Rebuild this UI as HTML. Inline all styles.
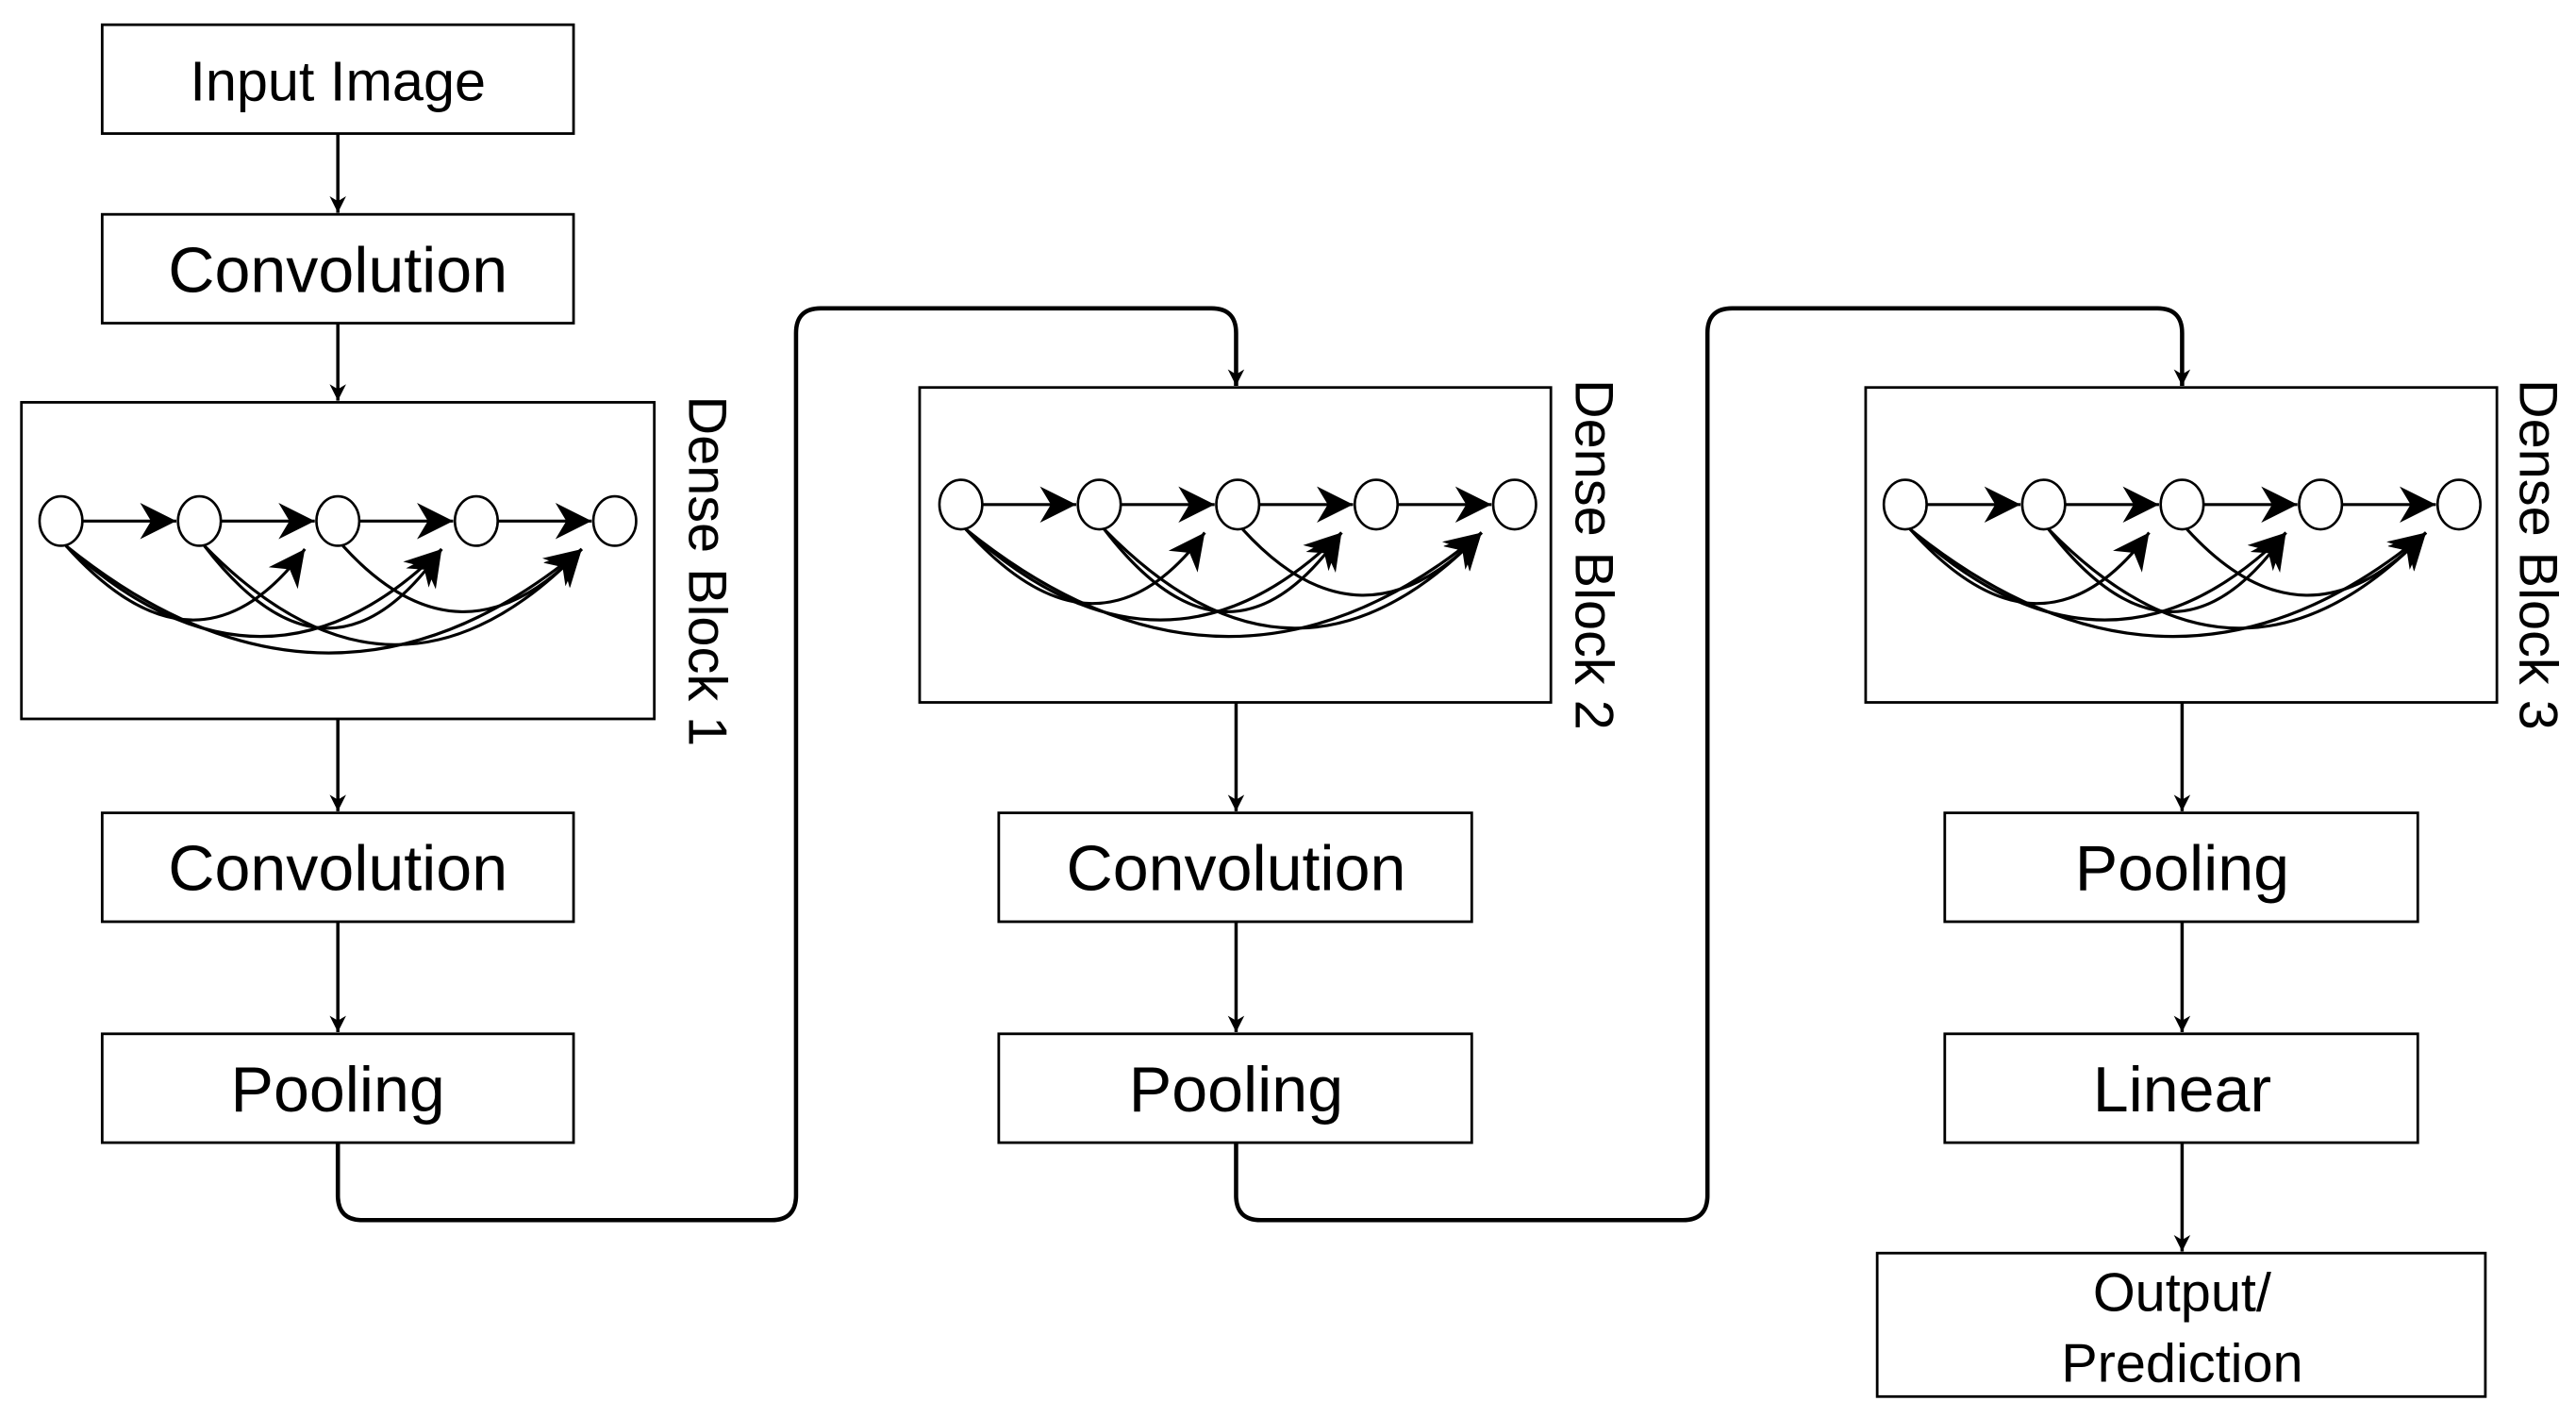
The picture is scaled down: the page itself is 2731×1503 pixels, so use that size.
<!DOCTYPE html>
<html><head><meta charset="utf-8"><style>
html,body{margin:0;padding:0;background:#fff;}
svg{display:block;}
text{font-family:"Liberation Sans",Arial,sans-serif;fill:#000;}
</style></head><body>
<svg width="2731" height="1503" viewBox="0 0 1563 860" preserveAspectRatio="none" xmlns="http://www.w3.org/2000/svg">
<defs>
<marker id="a" viewBox="0 0 10 10" refX="10" refY="5" markerWidth="10" markerHeight="13" markerUnits="userSpaceOnUse" orient="auto">
<path d="M0,0 L10,5 L0,10 L3,5 z" fill="#000"/></marker>
<marker id="b" viewBox="0 0 10 10" refX="10" refY="5" markerWidth="26" markerHeight="22" markerUnits="userSpaceOnUse" orient="auto">
<path d="M0,0 L10,5 L0,10 L3,5 z" fill="#000"/></marker>
<g id="g">
<g fill="none" stroke="#000" stroke-width="1.8">
<line x1="50" y1="316" x2="107" y2="316" marker-end="url(#b)"/>
<line x1="134" y1="316" x2="191" y2="316" marker-end="url(#b)"/>
<line x1="218" y1="316" x2="275" y2="316" marker-end="url(#b)"/>
<line x1="302" y1="316" x2="359" y2="316" marker-end="url(#b)"/>
<path d="M40,331 Q120,420 185,333" marker-end="url(#b)"/>
<path d="M40,331 Q160,440 268,333" marker-end="url(#b)"/>
<path d="M40,331 Q200,460 353,333" marker-end="url(#b)"/>
<path d="M124,331 Q200,430 268,333" marker-end="url(#b)"/>
<path d="M124,331 Q240,450 353,333" marker-end="url(#b)"/>
<path d="M208,331 Q280,410 353,333" marker-end="url(#b)"/>
</g>
<g fill="#fff" stroke="#000" stroke-width="1.5">
<ellipse cx="37" cy="316" rx="13" ry="15"/>
<ellipse cx="121" cy="316" rx="13" ry="15"/>
<ellipse cx="205" cy="316" rx="13" ry="15"/>
<ellipse cx="289" cy="316" rx="13" ry="15"/>
<ellipse cx="373" cy="316" rx="13" ry="15"/>
</g>
</g>
</defs>
<g fill="#fff" stroke="#000" stroke-width="1.6">
<rect x="62" y="15" width="286" height="66"/>
<rect x="62" y="130" width="286" height="66"/>
<rect x="13" y="244" width="384" height="192"/>
<rect x="62" y="493" width="286" height="66"/>
<rect x="62" y="627" width="286" height="66"/>
<rect x="558" y="235" width="383" height="191"/>
<rect x="606" y="493" width="287" height="66"/>
<rect x="606" y="627" width="287" height="66"/>
<rect x="1132" y="235" width="383" height="191"/>
<rect x="1180" y="493" width="287" height="66"/>
<rect x="1180" y="627" width="287" height="66"/>
<rect x="1139" y="760" width="369" height="87"/>
</g>
<use href="#g"/>
<use href="#g" transform="translate(546,-10)"/>
<use href="#g" transform="translate(1119,-10)"/>
<g fill="none" stroke="#000" stroke-width="2">
<line x1="205" y1="81" x2="205" y2="129" marker-end="url(#a)"/>
<line x1="205" y1="196" x2="205" y2="243" marker-end="url(#a)"/>
<line x1="205" y1="436" x2="205" y2="492" marker-end="url(#a)"/>
<line x1="205" y1="559" x2="205" y2="626" marker-end="url(#a)"/>
<line x1="750" y1="426" x2="750" y2="492" marker-end="url(#a)"/>
<line x1="750" y1="559" x2="750" y2="626" marker-end="url(#a)"/>
<line x1="1324" y1="426" x2="1324" y2="492" marker-end="url(#a)"/>
<line x1="1324" y1="559" x2="1324" y2="626" marker-end="url(#a)"/>
<line x1="1324" y1="693" x2="1324" y2="759" marker-end="url(#a)"/>
<path d="M205,693 V725 Q205,740 220,740 H468 Q483,740 483,725 V202 Q483,187 498,187 H735 Q750,187 750,202 V234" stroke-width="2.6" marker-end="url(#a)"/>
<path d="M750,693 V725 Q750,740 765,740 H1021 Q1036,740 1036,725 V202 Q1036,187 1051,187 H1309 Q1324,187 1324,202 V234" stroke-width="2.6" marker-end="url(#a)"/>
</g>
<g text-anchor="middle">
<text x="205" y="61" font-size="34">Input Image</text>
<text x="205" y="177" font-size="39">Convolution</text>
<text x="205" y="540" font-size="39">Convolution</text>
<text x="205" y="674" font-size="39">Pooling</text>
<text x="750" y="540" font-size="39">Convolution</text>
<text x="750" y="674" font-size="39">Pooling</text>
<text x="1324" y="540" font-size="39">Pooling</text>
<text x="1324" y="674" font-size="39">Linear</text>
<text x="1324" y="795" font-size="33">Output/</text>
<text x="1324" y="838" font-size="33">Prediction</text>
</g>
<g font-size="33">
<text transform="translate(418,240) rotate(90)">Dense Block 1</text>
<text transform="translate(956,230) rotate(90)">Dense Block 2</text>
<text transform="translate(1529,230) rotate(90)">Dense Block 3</text>
</g>
</svg>
</body></html>
